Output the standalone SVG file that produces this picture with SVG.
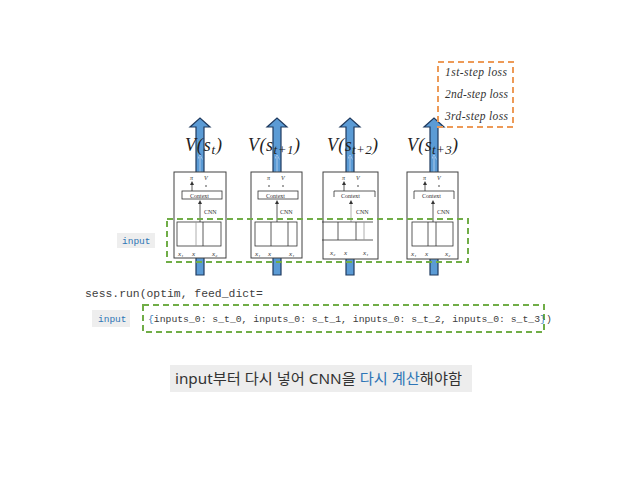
<svg xmlns="http://www.w3.org/2000/svg" width="638" height="479" viewBox="0 0 638 479">
<defs>
<style>
.shaft{fill:#5B9BD5;stroke:#1F3A5F;stroke-width:1.2}
.inner{stroke:#A9C8EA;stroke-width:1;fill:none}
.box{fill:#fff;stroke:#404040;stroke-width:1}
.thin{fill:none;stroke:#333;stroke-width:0.8}
.gray{fill:none;stroke:#999;stroke-width:0.8}
.tiny{font-family:"Liberation Serif",serif;font-size:6px;fill:#333}
.lbl{font-family:"Liberation Serif",serif;font-style:italic;font-size:7px;fill:#333}
.vs{font-family:"Liberation Serif","DejaVu Serif",serif;font-style:italic;font-size:18px;fill:#222}
.loss{font-family:"Liberation Serif",serif;font-style:italic;font-size:11.5px;fill:#333}
.mono{font-family:"Liberation Mono","DejaVu Sans Mono",monospace;fill:#404040}
.tag{fill:#EEEEEE}
.tagt{font-family:"Liberation Mono",monospace;font-size:9.5px;fill:#2E75B6}
.gdash{fill:none;stroke:#70AD47;stroke-width:2;stroke-dasharray:6,4}
</style>
<marker id="ah" viewBox="0 0 6 6" refX="3" refY="3" markerWidth="5" markerHeight="5" orient="auto"><path d="M0,0 L6,3 L0,6 z" fill="#333"/></marker>
<marker id="ahb" viewBox="0 0 6 6" refX="3" refY="3" markerWidth="5" markerHeight="5" orient="auto"><path d="M0,0 L6,3 L0,6" fill="none" stroke="#A9C8EA"/></marker>
</defs>

<g id="connectors">
<path class="shaft" d="M196,275 L196,127 L190,127 L200,118 L210,127 L204,127 L204,275 Z"/>
<path class="shaft" d="M273,275 L273,127 L267,127 L277,118 L287,127 L281,127 L281,275 Z"/>
<path class="shaft" d="M346,275 L346,127 L340,127 L350,118 L360,127 L354,127 L354,275 Z"/>
<path class="shaft" d="M430,275 L430,127 L424,127 L434,118 L444,127 L438,127 L438,275 Z"/>
<line class="inner" x1="200" y1="172" x2="200" y2="157" marker-end="url(#ahb)"/>
<line class="inner" x1="277" y1="172" x2="277" y2="157" marker-end="url(#ahb)"/>
<line class="inner" x1="350" y1="172" x2="350" y2="157" marker-end="url(#ahb)"/>
<line class="inner" x1="434" y1="172" x2="434" y2="157" marker-end="url(#ahb)"/>
</g>

<g id="label-v">
<text class="vs" x="185" y="151" textLength="37" lengthAdjust="spacing">V(s<tspan font-size="13" dy="3">t</tspan><tspan dy="-3">)</tspan></text>
<text class="vs" x="248" y="151" textLength="52" lengthAdjust="spacing">V(s<tspan font-size="13" dy="3">t+1</tspan><tspan dy="-3">)</tspan></text>
<text class="vs" x="327" y="151" textLength="51" lengthAdjust="spacing">V(s<tspan font-size="13" dy="3">t+2</tspan><tspan dy="-3">)</tspan></text>
<text class="vs" x="407" y="151" textLength="51" lengthAdjust="spacing">V(s<tspan font-size="13" dy="3">t+3</tspan><tspan dy="-3">)</tspan></text>
</g>

<g id="node1">
<rect class="box" x="174" y="172" width="52" height="86"/>
<text class="tiny" x="190" y="180" font-style="italic" font-size="7">π</text>
<text class="tiny" x="204" y="180" font-style="italic" font-size="7">V</text>
<line class="thin" x1="192" y1="191" x2="192" y2="183" marker-end="url(#ah)"/>
<circle cx="206" cy="186" r="0.8" fill="#333"/>
<rect class="thin" x="182" y="191" width="40" height="8"/>
<text class="tiny" x="190" y="197.5">Context</text>
<line class="thin" x1="200" y1="222" x2="200" y2="202" marker-end="url(#ah)"/>
<text class="tiny" x="204" y="214">CNN</text>
<rect class="thin" x="177" y="222" width="44" height="24"/>
<line class="gray" x1="196" y1="222" x2="196" y2="246"/>
<line class="thin" x1="203" y1="222" x2="203" y2="246"/>
<text class="lbl" x="178" y="256">x₁</text><text class="lbl" x="192" y="256">x</text><text class="lbl" x="212" y="256">x₂</text>
</g>

<g id="node2">
<rect class="box" x="251" y="172" width="51" height="86"/>
<text class="tiny" x="267" y="180" font-style="italic" font-size="7">π</text>
<text class="tiny" x="281" y="180" font-style="italic" font-size="7">V</text>
<circle cx="269" cy="186" r="0.8" fill="#333"/>
<circle cx="283" cy="186" r="0.8" fill="#333"/>
<rect class="thin" x="258" y="191" width="40" height="8"/>
<text class="tiny" x="266" y="197.5">Context</text>
<line class="thin" x1="277" y1="222" x2="277" y2="202" marker-end="url(#ah)"/>
<text class="tiny" x="280" y="214">CNN</text>
<rect class="thin" x="255" y="222" width="42" height="24"/>
<line class="thin" x1="271" y1="222" x2="271" y2="246"/>
<line class="thin" x1="288" y1="222" x2="288" y2="246"/>
<text class="lbl" x="255" y="256">x₁</text><text class="lbl" x="268" y="256">x</text><text class="lbl" x="289" y="256">x₁</text>
</g>

<g id="node3">
<rect class="box" x="323" y="172" width="55" height="87"/>
<text class="tiny" x="342" y="180" font-style="italic" font-size="7">π</text>
<text class="tiny" x="356" y="180" font-style="italic" font-size="7">V</text>
<line class="thin" x1="344" y1="191" x2="344" y2="183" marker-end="url(#ah)"/>
<circle cx="358" cy="186" r="0.8" fill="#333"/>
<path class="thin" d="M334,197 L334,191 L375,191 L375,197"/>
<text class="tiny" x="341" y="197.5">Context</text>
<line class="gray" x1="351" y1="222" x2="351" y2="202"/>
<line class="thin" x1="351" y1="204" x2="351" y2="202" marker-end="url(#ah)"/>
<text class="tiny" x="356" y="214">CNN</text>
<line class="thin" x1="322" y1="222" x2="373" y2="222"/>
<line class="thin" x1="322" y1="240" x2="373" y2="240"/>
<line class="thin" x1="338" y1="222" x2="338" y2="240"/>
<line class="thin" x1="356" y1="222" x2="356" y2="240"/>
<line class="gray" x1="364" y1="222" x2="364" y2="240"/>
<text class="lbl" x="330" y="255">x₂</text><text class="lbl" x="344" y="255">x</text><text class="lbl" x="363" y="255">x₁</text>
</g>

<g id="node4">
<rect class="box" x="407" y="172" width="51" height="87"/>
<text class="tiny" x="423" y="180" font-style="italic" font-size="7">π</text>
<text class="tiny" x="437" y="180" font-style="italic" font-size="7">V</text>
<line class="thin" x1="425" y1="191" x2="425" y2="183" marker-end="url(#ah)"/>
<circle cx="439" cy="186" r="0.8" fill="#333"/>
<path class="thin" d="M414,199 L414,191 L454,191 L454,199"/>
<text class="tiny" x="422" y="197.5">Context</text>
<line class="thin" x1="433" y1="222" x2="433" y2="202" marker-end="url(#ah)"/>
<text class="tiny" x="437" y="214">CNN</text>
<rect class="thin" x="412" y="222" width="41" height="24"/>
<line class="thin" x1="428" y1="222" x2="428" y2="246"/>
<line class="thin" x1="436" y1="222" x2="436" y2="246"/>
<text class="lbl" x="411" y="256">x₁</text><text class="lbl" x="425" y="256">x</text><text class="lbl" x="445" y="256">x₂</text>
</g>

<g id="input-group">
<rect class="gdash" x="167" y="219" width="301" height="43"/>
<rect class="tag" x="117" y="233" width="38" height="15"/>
<text class="tagt" x="122" y="244">input</text>
</g>

<g id="loss-box">
<rect x="438" y="62" width="75" height="65" fill="none" stroke="#ED9A57" stroke-width="2" stroke-dasharray="6,4"/>
<text class="loss" x="445" y="76" textLength="62" lengthAdjust="spacing">1st-step loss</text>
<text class="loss" x="445" y="98" textLength="63" lengthAdjust="spacing">2nd-step loss</text>
<text class="loss" x="445" y="120" textLength="63" lengthAdjust="spacing">3rd-step loss</text>
</g>

<g id="code">
<text class="mono" x="85" y="297" font-size="11.4">sess.run(optim, feed_dict=</text>
<rect class="tag" x="92" y="310" width="38" height="17"/>
<text class="tagt" x="98" y="322">input</text>
<rect class="gdash" x="143" y="305" width="401" height="27"/>
<text class="mono" x="148" y="322" font-size="9.75"><tspan fill="#2E75B6">{</tspan>inputs_0: s_t_0, inputs_0: s_t_1, inputs_0: s_t_2, inputs_0: s_t_3<tspan fill="#2E75B6">}</tspan>)</text>
</g>

<g id="note">
<rect x="170" y="365" width="302" height="27" fill="#EDEDED"/>
<text x="175" y="383.5" font-family="'Noto Sans','Noto Sans CJK KR',sans-serif" font-size="15" fill="#333" textLength="287" lengthAdjust="spacingAndGlyphs">input부터 다시 넣어 CNN을 <tspan fill="#2E75B6">다시 계산</tspan>해야함</text>
</g>
</svg>
